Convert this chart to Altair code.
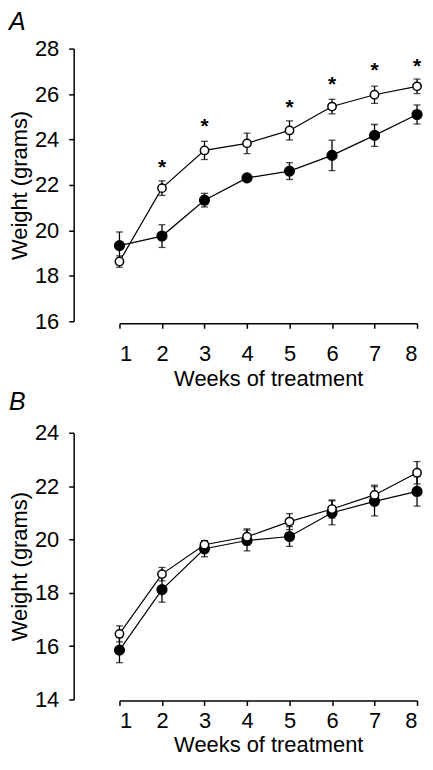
import altair as alt
import pandas as pd

weeks = [1, 2, 3, 4, 5, 6, 7, 8]

# Panel A
a_open = [18.63, 21.86, 23.52, 23.83, 24.40, 25.45, 25.97, 26.34]
a_open_err = [0.25, 0.32, 0.40, 0.45, 0.42, 0.32, 0.38, 0.32]
a_filled = [19.33, 19.75, 21.33, 22.31, 22.61, 23.30, 24.18, 25.10]
a_filled_err = [0.60, 0.50, 0.30, 0.10, 0.37, 0.67, 0.48, 0.42]
a_star_weeks = [2, 3, 5, 6, 7, 8]
a_star_y = [23.01, 24.80, 25.64, 26.67, 27.26, 27.43]

# Panel B
b_open = [16.46, 18.70, 19.80, 20.10, 20.67, 21.14, 21.67, 22.50]
b_open_err = [0.30, 0.25, 0.15, 0.30, 0.30, 0.34, 0.37, 0.42]
b_filled = [15.85, 18.12, 19.65, 19.96, 20.11, 21.00, 21.43, 21.80]
b_filled_err = [0.47, 0.47, 0.30, 0.39, 0.37, 0.45, 0.55, 0.55]

FONT = "Liberation Sans"


def make_df(open_v, open_e, filled_v, filled_e):
    rows = []
    for w, v, e in zip(weeks, filled_v, filled_e):
        rows.append({"week": w, "val": v, "lo": v - e, "hi": v + e, "grp": "filled", "ord": 0})
    for w, v, e in zip(weeks, open_v, open_e):
        rows.append({"week": w, "val": v, "lo": v - e, "hi": v + e, "grp": "open", "ord": 1})
    return pd.DataFrame(rows)


def panel(df, ymin, ymax, height, label, label_y, xoffset, xlabel_pad, xtitle_pad, stars=None):
    xs = alt.Scale(domain=[1, 8], nice=False, zero=False)
    ys = alt.Scale(domain=[ymin, ymax], nice=False, zero=False)
    x = alt.X("week:Q", scale=xs, axis=alt.Axis(
        values=weeks, title="Weeks of treatment", offset=xoffset, tickSize=5,
        labelPadding=xlabel_pad, titlePadding=xtitle_pad, format="d"))
    y = alt.Y("val:Q", scale=ys, axis=alt.Axis(
        values=list(range(ymin, ymax + 1, 2)), title="Weight (grams)", offset=46,
        tickSize=5, labelPadding=10, titlePadding=3, format="d"))
    base = alt.Chart(df)
    lines = base.mark_line(color="black", strokeWidth=1.2).encode(
        x=x, y=y, detail="grp:N")
    rules = base.mark_rule(color="black", strokeWidth=1.3).encode(
        x="week:Q", y="lo:Q", y2="hi:Q")
    caps_hi = base.mark_tick(color="black", orient="horizontal", size=7, thickness=1.3).encode(
        x="week:Q", y="hi:Q")
    caps_lo = base.mark_tick(color="black", orient="horizontal", size=7, thickness=1.3).encode(
        x="week:Q", y="lo:Q")
    pts = base.mark_point(filled=True, stroke="black", strokeWidth=1.5, opacity=1).encode(
        x="week:Q", y="val:Q",
        fill=alt.Fill("grp:N", scale=alt.Scale(domain=["open", "filled"], range=["white", "black"]), legend=None),
        size=alt.Size("grp:N", scale=alt.Scale(domain=["open", "filled"], range=[70, 95]), legend=None),
        order=alt.Order("ord:Q"))
    lab = alt.Chart(pd.DataFrame({"t": [label]})).mark_text(
        font=FONT, fontSize=25, fontStyle="italic", align="left", baseline="alphabetic", color="black"
    ).encode(text="t:N", x=alt.value(-111), y=alt.value(label_y))
    layers = [lines, rules, caps_hi, caps_lo, pts, lab]
    if stars is not None:
        sdf = pd.DataFrame({"week": stars[0], "sy": stars[1], "s": ["*"] * len(stars[0])})
        st = alt.Chart(sdf).mark_text(font=FONT, fontSize=21, fontWeight="bold", color="black",
                                      baseline="alphabetic", dy=12).encode(
            x="week:Q", y="sy:Q", text="s:N")
        layers.append(st)
    return alt.layer(*layers).properties(width=299, height=height)


dfa = make_df(a_open, a_open_err, a_filled, a_filled_err)
dfb = make_df(b_open, b_open_err, b_filled, b_filled_err)

pa = panel(dfa, 16, 28, 274, "A", -19, 2, 15, 5, stars=(a_star_weeks, a_star_y))
pb = panel(dfb, 14, 24, 268, "B", -23, 1, 5, 3)

chart = alt.vconcat(pa, pb, spacing=0).properties(
    padding=0
).configure_view(stroke=None).configure_axis(
    grid=False, domainColor="black", domainWidth=1.5, tickColor="black", tickWidth=1.5,
    labelColor="black", titleColor="black", labelFont=FONT, titleFont=FONT,
    labelFontSize=22, titleFontSize=22, titleFontWeight="normal"
)

chart.save("out.html", embed_options={"renderer": "svg", "actions": False})
